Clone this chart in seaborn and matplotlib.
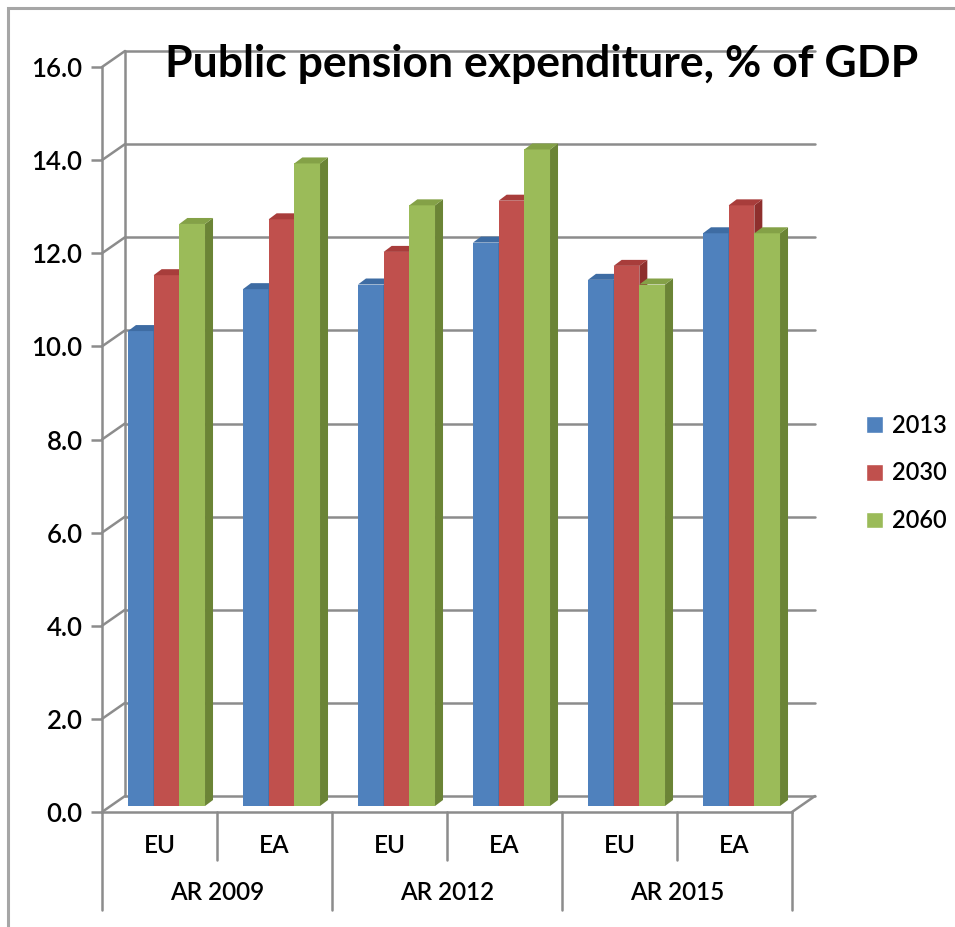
import matplotlib
matplotlib.use("Agg")
import matplotlib.pyplot as plt
import matplotlib.transforms as mtransforms
from matplotlib.patches import Polygon, Rectangle
import seaborn as sns
import pandas as pd

# ---------------- data ----------------
categories = ["EU", "EA", "EU", "EA", "EU", "EA"]
cat_ids = ["AR2009_EU", "AR2009_EA", "AR2012_EU", "AR2012_EA", "AR2015_EU", "AR2015_EA"]
groups = ["AR 2009", "AR 2012", "AR 2015"]
years = ["2013", "2030", "2060"]
vals_2013 = [10.2, 11.1, 11.2, 12.1, 11.3, 12.3]
vals_2030 = [11.4, 12.6, 11.9, 13.0, 11.6, 12.9]
vals_2060 = [12.5, 13.8, 12.9, 14.1, 11.2, 12.3]
yticks = [0, 2, 4, 6, 8, 10, 12, 14, 16]

front_colors = ["#4F81BD", "#C0504D", "#9BBB59"]
side_colors = ["#34598A", "#8E2F2D", "#6B8436"]
top_colors = ["#3E6CA3", "#A83D3B", "#84A147"]

rows = []
for yr, vals in zip(years, [vals_2013, vals_2030, vals_2060]):
    for cid, v in zip(cat_ids, vals):
        rows.append({"cat": cid, "year": yr, "value": v})
df = pd.DataFrame(rows)

# ---------------- figure ----------------
sns.set_style("white")
plt.rcParams["font.family"] = ["Lato", "DejaVu Sans"]
plt.rcParams["text.color"] = "black"
plt.rcParams["xtick.labelcolor"] = "black"
plt.rcParams["ytick.labelcolor"] = "black"
W, H = 955, 927
fig = plt.figure(figsize=(W / 100, H / 100), dpi=100)
ax = fig.add_axes([102 / W, (H - 812) / H, 690 / W, 745 / H])

# outer chart border
fig.patches.append(Rectangle((8 / W, -0.05), 1.2, (H - 8) / H + 0.05,
                             transform=fig.transFigure, fill=False,
                             edgecolor="#A6A6A6", linewidth=2.2, zorder=0))

sns.barplot(data=df, x="cat", y="value", hue="year", order=cat_ids,
            hue_order=years, palette=front_colors, saturation=1,
            width=0.67, dodge=True, ax=ax, legend=True, zorder=3)

ax.set_xlim(-0.5, 5.5)
ax.set_ylim(0, 16)

# 3-D wall geometry (data units)
px_x = 115.0          # pixels per category
px_y = 745.0 / 16     # pixels per unit
dxw, dyw = 23 / px_x, 16 / px_y
grid_c = "#8C8C8C"

for v in yticks:
    ax.plot([-0.5 + dxw, 5.5 + dxw], [v + dyw, v + dyw], color=grid_c,
            lw=1.8, clip_on=False, zorder=0.5)
    ax.plot([-0.5, -0.5 + dxw], [v, v + dyw], color=grid_c, lw=1.8,
            clip_on=False, zorder=0.5)
ax.plot([-0.5 + dxw, -0.5 + dxw], [dyw, 16 + dyw], color=grid_c, lw=1.8,
        clip_on=False, zorder=0.5)
ax.plot([5.5, 5.5 + dxw], [0, dyw], color=grid_c, lw=1.8, clip_on=False,
        zorder=0.5)

# bars set back on floor + 3-D side/top faces
offset = mtransforms.ScaledTranslation(7 / 100, 6 / 100, fig.dpi_scale_trans)
T = ax.transData + offset
dxb, dyb = 8 / px_x, 6 / px_y
for si, cont in enumerate(ax.containers):
    for bar in cont:
        bar.set_transform(T)
        bar.set_zorder(3 + si)
        bar.set_edgecolor("none")
        x0, w, h = bar.get_x(), bar.get_width(), bar.get_height()
        side = Polygon([(x0 + w, 0), (x0 + w + dxb, dyb), (x0 + w + dxb, h + dyb),
                        (x0 + w, h)], closed=True, facecolor=side_colors[si],
                       edgecolor="none", transform=T, zorder=3 + si, clip_on=False)
        top = Polygon([(x0, h), (x0 + dxb, h + dyb), (x0 + w + dxb, h + dyb),
                       (x0 + w, h)], closed=True, facecolor=top_colors[si],
                      edgecolor="none", transform=T, zorder=3 + si, clip_on=False)
        ax.add_patch(side)
        ax.add_patch(top)
        bar.set_clip_on(False)

# axes styling
for s in ["top", "right"]:
    ax.spines[s].set_visible(False)
for s in ["left", "bottom"]:
    ax.spines[s].set_color(grid_c)
    ax.spines[s].set_linewidth(1.8)
ax.set_yticks(yticks)
ax.set_yticklabels([f"{t:.1f}" for t in yticks], fontsize=18.5, fontweight="semibold")
ax.tick_params(axis="y", length=8, width=1.8, color=grid_c, labelcolor="black",
               pad=6, left=True)
ax.set_xticks(range(6))
ax.set_xticklabels(categories, fontsize=17.5, fontweight="semibold")
ax.tick_params(axis="x", length=0, pad=16, labelcolor="black")
ax.set_xlabel("")
ax.set_ylabel("")

# category axis dividers and group labels
trans = mtransforms.blended_transform_factory(ax.transData, ax.transAxes)
short_len = (860 - 812) / 745
long_len = (910 - 812) / 745
for xd in [0.5, 2.5, 4.5]:
    ax.plot([xd, xd], [0, -short_len], color=grid_c, lw=1.8, transform=trans,
            clip_on=False)
for xd in [-0.5, 1.5, 3.5, 5.5]:
    ax.plot([xd, xd], [0, -long_len], color=grid_c, lw=1.8, transform=trans,
            clip_on=False)
for gi, g in enumerate(groups):
    ax.text(2 * gi + 0.5, -(893 - 812) / 745, g, transform=trans, ha="center",
            va="center", fontsize=17.5, fontweight="semibold", color="black")

# title
fig.text(542 / W, (H - 77) / H, "Public pension expenditure, % of GDP",
         ha="center", va="baseline", fontsize=32, fontweight="bold",
         color="black")

# legend
leg = ax.legend(loc="center left", bbox_to_anchor=(845 / W, (H - 473) / H),
                bbox_transform=fig.transFigure, frameon=False,
                prop={"size": 17, "weight": "semibold"},
                handlelength=0.7, handleheight=0.7, handletextpad=0.4,
                labelspacing=1.05, title=None)
for t in leg.get_texts():
    t.set_color("black")

fig.savefig("out.png", dpi=100)
